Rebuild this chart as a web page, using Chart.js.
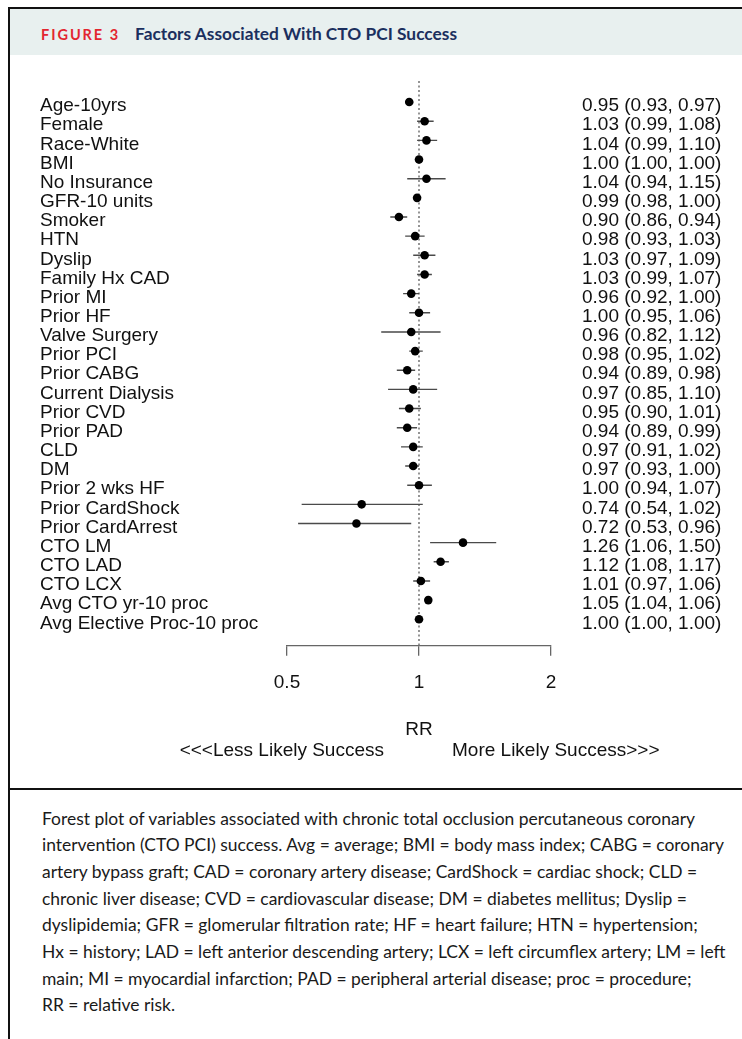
<!DOCTYPE html>
<html><head><meta charset="utf-8">
<script src="https://cdn.jsdelivr.net/npm/chart.js@4.4.0/dist/chart.umd.min.js"></script>
<style>
html,body{margin:0;padding:0;background:#fff;}
body{width:742px;height:1039px;position:relative;overflow:hidden;font-family:"Liberation Sans",Arial,sans-serif;}
#bl{position:absolute;left:8px;top:7px;width:2px;height:1032px;background:#111;}
#bt{position:absolute;left:8px;top:7px;width:734px;height:2px;background:#111;}
#hdr{position:absolute;left:10px;top:9px;width:732px;height:46px;background:#e8f0ef;}
.ht{position:absolute;top:24.5px;height:18px;line-height:18px;white-space:pre;transform-origin:0 50%;width:max-content;font-family:Lato,"Open Sans",sans-serif;font-weight:bold;}
#fig{left:41px;color:#e3262f;font-size:15px;letter-spacing:2px;}
#ttl{left:135px;color:#1b2f5e;font-size:17px;}
#sep{position:absolute;left:8px;top:788px;width:734px;height:2px;background:#111;}
#cap{position:absolute;left:41.5px;top:805.7px;font-size:17.5px;line-height:26.67px;color:#1a1a1a;font-family:Lato,"Open Sans",sans-serif;}
.cl{white-space:pre;transform-origin:0 50%;width:max-content;}
#cw{position:absolute;left:10px;top:56px;width:732px;height:732px;}
</style>
</head>
<body>
<div id="hdr"></div>
<div id="bl"></div>
<div id="bt"></div>
<div class="ht" id="fig">FIGURE 3</div>
<div class="ht" id="ttl">Factors Associated With CTO PCI Success</div>
<div id="cw"><canvas id="c"></canvas></div>
<div id="sep"></div>
<div id="cap">
<div class="cl">Forest plot of variables associated with chronic total occlusion percutaneous coronary</div>
<div class="cl">intervention (CTO PCI) success. Avg = average; BMI = body mass index; CABG = coronary</div>
<div class="cl">artery bypass graft; CAD = coronary artery disease; CardShock = cardiac shock; CLD =</div>
<div class="cl">chronic liver disease; CVD = cardiovascular disease; DM = diabetes mellitus; Dyslip =</div>
<div class="cl">dyslipidemia; GFR = glomerular filtration rate; HF = heart failure; HTN = hypertension;</div>
<div class="cl">Hx = history; LAD = left anterior descending artery; LCX = left circumflex artery; LM = left</div>
<div class="cl">main; MI = myocardial infarction; PAD = peripheral arterial disease; proc = procedure;</div>
<div class="cl">RR = relative risk.</div>
</div>
<script>
// ---- data ----
const labels = [
  "Age-10yrs","Female","Race-White","BMI","No Insurance","GFR-10 units","Smoker","HTN","Dyslip",
  "Family Hx CAD","Prior MI","Prior HF","Valve Surgery","Prior PCI","Prior CABG","Current Dialysis",
  "Prior CVD","Prior PAD","CLD","DM","Prior 2 wks HF","Prior CardShock","Prior CardArrest",
  "CTO LM","CTO LAD","CTO LCX","Avg CTO yr-10 proc","Avg Elective Proc-10 proc"
];
const rr = [0.95,1.03,1.04,1.00,1.04,0.99,0.90,0.98,1.03,1.03,0.96,1.00,0.96,0.98,0.94,0.97,0.95,0.94,0.97,0.97,1.00,0.74,0.72,1.26,1.12,1.01,1.05,1.00];
const lo = [0.93,0.99,0.99,1.00,0.94,0.98,0.86,0.93,0.97,0.99,0.92,0.95,0.82,0.95,0.89,0.85,0.90,0.89,0.91,0.93,0.94,0.54,0.53,1.06,1.08,0.97,1.04,1.00];
const hi = [0.97,1.08,1.10,1.00,1.15,1.00,0.94,1.03,1.09,1.07,1.00,1.06,1.12,1.02,0.98,1.10,1.01,0.99,1.02,1.00,1.07,1.02,0.96,1.50,1.17,1.06,1.06,1.00];
const xTickValues = [0.5, 1, 2];
const xTickLabels = ["0.5", "1", "2"];
const refValue = 1;
const axisTitle = "RR";
const lessText = "<<<Less Likely Success";
const moreText = "More Likely Success>>>";
</script>
<script>
// scale header/caption text to reference widths
(function(){
  function fit(el, target){ const w = el.getBoundingClientRect().width; el.style.transform = 'scaleX(' + (target / w) + ')'; }
  fit(document.getElementById('fig'), 79);
  fit(document.getElementById('ttl'), 322);
  const lines = document.querySelectorAll('.cl');
  const s = 653 / lines[0].getBoundingClientRect().width;
  lines.forEach(l => l.style.transform = 'scaleX(' + s + ')');
})();

const n = rr.length;
const ciText = rr.map((v,i) => v.toFixed(2) + ' (' + lo[i].toFixed(2) + ', ' + hi[i].toFixed(2) + ')');
const yMin = -1.1, yMax = n - 1 + 1.38;

const segData = [];
for (let i = 0; i < n; i++) { segData.push({x: lo[i], y: i}, {x: hi[i], y: i}, {x: 1, y: null}); }
const ptData = rr.map((v,i) => ({x: v, y: i}));
const refData = [{x: refValue, y: yMin}, {x: refValue, y: yMax}];

Chart.defaults.font.family = '"Liberation Sans", Arial, sans-serif';
Chart.defaults.color = '#111';

const rowTicks = a => { a.ticks = rr.map((_, i) => ({value: i})); };
const fixY = w => a => { a.width = w; a.paddingTop = 0; a.paddingBottom = 0; };

const directionLabels = {
  id: 'directionLabels',
  afterDraw(chart) {
    const ctx = chart.ctx, xs = chart.scales.x;
    const cx = xs.getPixelForValue(refValue);
    const y = chart.chartArea.bottom + 104.8;
    ctx.save();
    ctx.font = '19px "Liberation Sans", Arial, sans-serif';
    ctx.fillStyle = '#111';
    ctx.textBaseline = 'middle';
    ctx.textAlign = 'right';
    ctx.fillText(lessText, cx - 35, y);
    ctx.textAlign = 'left';
    ctx.fillText(moreText, cx + 33, y);
    ctx.restore();
  }
};

new Chart(document.getElementById('c'), {
  type: 'scatter',
  data: { datasets: [
    { data: ptData, showLine: false, pointRadius: 4.3, pointBackgroundColor: '#000', pointBorderWidth: 0, order: 1 },
    { data: segData, showLine: true, spanGaps: false, borderColor: '#4a4a4a', borderWidth: 1.4, pointRadius: 0, order: 2 },
    { data: refData, showLine: true, borderColor: '#7a7a7a', borderWidth: 1.6, borderDash: [2, 2.5], pointRadius: 0, order: 3 }
  ]},
  plugins: [directionLabels],
  options: {
    responsive: true, maintainAspectRatio: false, animation: false, events: [],
    layout: { padding: { left: 30, right: 0, top: 25, bottom: 0 } },
    plugins: { legend: { display: false }, tooltip: { enabled: false } },
    scales: {
      x: {
        type: 'logarithmic', position: 'bottom', min: 0.5, max: 2,
        afterBuildTicks: a => { a.ticks = xTickValues.map(v => ({value: v})); },
        afterFit: a => { a.height = 142.3; },
        grid: { drawOnChartArea: false, drawTicks: true, tickLength: 10, color: '#666', lineWidth: 1.3 },
        border: { display: true, color: '#666', width: 1.3 },
        ticks: { padding: 15.4, autoSkip: false, maxRotation: 0, color: '#111', font: { size: 19 },
                 callback: (v, i) => xTickLabels[i] },
        title: { display: true, text: axisTitle, color: '#111',
                 font: { size: 19, lineHeight: 20.5 / 19 }, padding: { top: 0, bottom: 47.75 } }
      },
      y: {
        type: 'linear', position: 'left', reverse: true, min: yMin, max: yMax,
        afterBuildTicks: rowTicks,
        afterFit: fixY(247),
        grid: { display: false, drawTicks: false }, border: { display: false },
        ticks: { crossAlign: 'far', padding: 0, autoSkip: false, labelOffset: 4, color: '#111', font: { size: 19 },
                 callback: (v) => labels[v] }
      },
      y2: {
        type: 'linear', position: 'right', reverse: true, min: yMin, max: yMax,
        afterBuildTicks: rowTicks,
        afterFit: fixY(191),
        grid: { display: false, drawTicks: false }, border: { display: false },
        ticks: { crossAlign: 'near', padding: 31, autoSkip: false, labelOffset: 4, color: '#111', font: { size: 19 },
                 callback: (v) => ciText[v] }
      }
    }
  }
});
</script>
</body></html>
